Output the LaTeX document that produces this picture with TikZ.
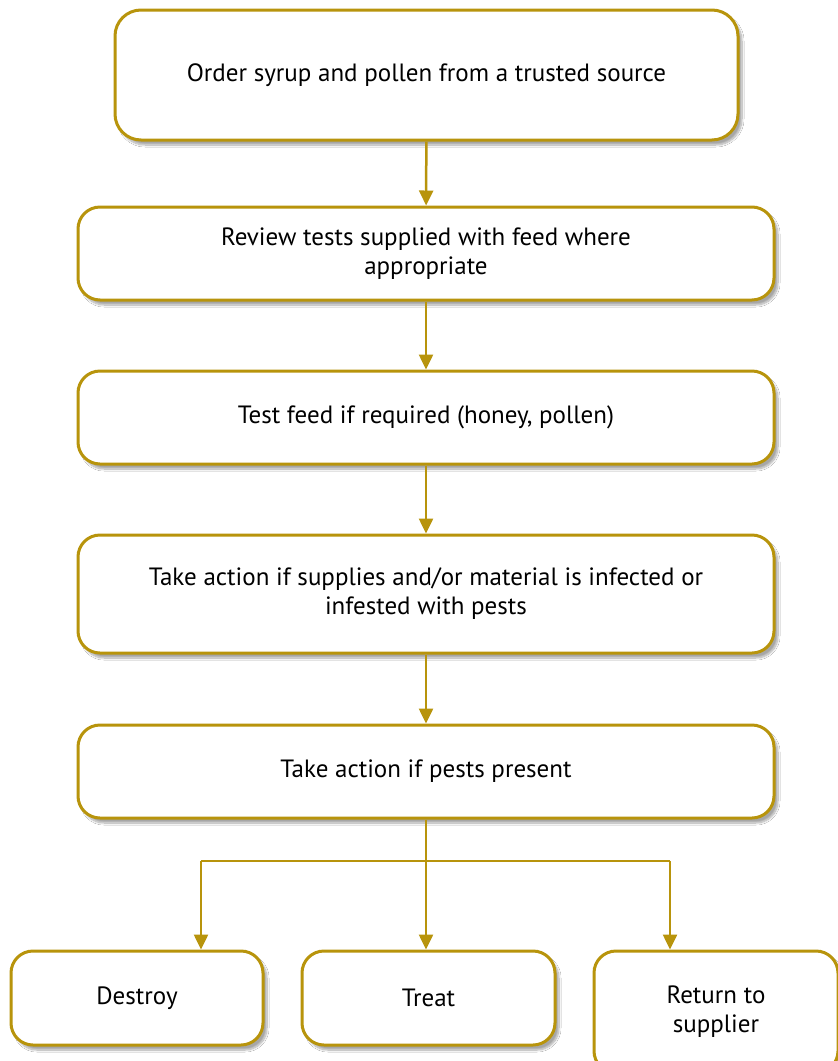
\documentclass[tikz,border=0pt]{standalone}
\usepackage{fontspec}
\setmainfont{PT Sans}
\usetikzlibrary{arrows.meta,shadows.blur,calc}
\definecolor{gold}{HTML}{B8940C}
\tikzset{
  stepbox/.style={draw=gold, line width=3pt, fill=white, rounded corners=22pt,
    align=center, inner sep=0pt, font=\fontsize{25}{29}\selectfont,
    blur shadow={shadow xshift=4pt, shadow yshift=-5pt, shadow blur steps=10, shadow opacity=35}},
  flow/.style={draw=gold, line width=2.5pt, -{Triangle[length=15pt,width=14pt]}},
  branch/.style={draw=gold, line width=1.6pt},
  branchtip/.style={draw=gold, line width=2.5pt, -{Triangle[length=15pt,width=14pt]}},
}
\begin{document}
\begin{tikzpicture}[x=1pt,y=-1pt]
\clip (0,0) rectangle (838,1061);
\fill[white] (0,0) rectangle (838,1061);

\node[stepbox, minimum width=623pt, minimum height=130pt, rounded corners=26pt] (b1) at (426.5,75)
  {Order syrup and pollen from a trusted source};
\node[stepbox, minimum width=696pt, minimum height=93pt] (b2) at (426,253.5)
  {Review tests supplied with feed where\\appropriate};
\node[stepbox, minimum width=696pt, minimum height=93pt] (b3) at (426,417.5)
  {Test feed if required (honey, pollen)};
\node[stepbox, minimum width=696pt, minimum height=118pt] (b4) at (426,594)
  {Take action if supplies and/or material is infected or\\infested with pests};
\node[stepbox, minimum width=696pt, minimum height=93pt] (b5) at (426,771.5)
  {Take action if pests present};

\node[stepbox, minimum width=252pt, minimum height=94pt] (destroy) at (137,998) {Destroy};
\node[stepbox, minimum width=253pt, minimum height=94pt] (treat) at (428.5,998) {Treat};
\node[stepbox, minimum width=244pt, minimum height=122pt] (ret) at (716,1012) {Return to\\supplier};

\draw[flow] (b1) -- (b2);
\draw[flow] (b2) -- (b3);
\draw[flow] (b3) -- (b4);
\draw[flow] (b4) -- (b5);

\coordinate (split) at (426,861);
\coordinate (dl) at (201,861);
\coordinate (rl) at (670,861);
\draw[flow] (b5.south -| split) -- (split |- treat.north);
\draw[branch] (dl) -- (rl);
\draw[branchtip] (dl) -- (dl |- destroy.north);
\draw[branchtip] (rl) -- (rl |- ret.north);
\end{tikzpicture}
\end{document}
